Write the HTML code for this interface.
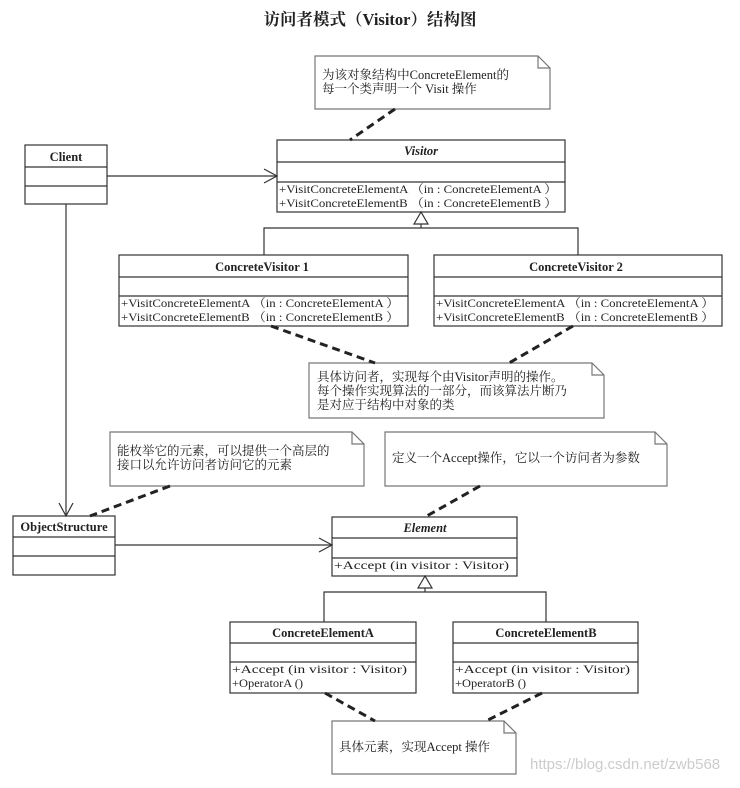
<!DOCTYPE html>
<html><head><meta charset="utf-8"><style>
body{margin:0;background:#fff}
svg text{font-family:"Liberation Serif","Noto Serif CJK SC",serif;fill:#222}
.b{font-weight:bold;font-size:12.5px}
.m{font-size:12px}
.n{font-size:12.5px}
</style></head><body>
<svg width="740" height="783" viewBox="0 0 740 783" xmlns="http://www.w3.org/2000/svg">
<g stroke="#333" stroke-width="1.2" fill="none">
<path d="M315 56 H538 L550 68 V109 H315 Z M538 56 V68 H550" stroke="#777"/>
<rect x="277" y="140" width="288" height="72"/><line x1="277" y1="162" x2="565" y2="162"/><line x1="277" y1="182" x2="565" y2="182"/>
<rect x="25" y="145" width="82" height="59"/><line x1="25" y1="167" x2="107" y2="167"/><line x1="25" y1="186" x2="107" y2="186"/>
<line x1="107" y1="176" x2="277" y2="176"/><path d="M264 169 L277 176 L264 183"/>
<line x1="66" y1="204" x2="66" y2="516"/><path d="M59 503 L66 516 L73 503"/>
<path d="M421 212 L414 224 H428 Z"/><line x1="421" y1="224" x2="421" y2="228"/>
<path d="M264 255 V228 H578 V255"/>
<rect x="119" y="255" width="289" height="71"/><line x1="119" y1="277" x2="408" y2="277"/><line x1="119" y1="296" x2="408" y2="296"/>
<rect x="434" y="255" width="288" height="71"/><line x1="434" y1="277" x2="722" y2="277"/><line x1="434" y1="296" x2="722" y2="296"/>
<path d="M309 363 H592 L604 375 V418 H309 Z M592 363 V375 H604" stroke="#777"/>
<path d="M110 432 H352 L364 444 V486 H110 Z M352 432 V444 H364" stroke="#777"/>
<path d="M385 432 H655 L667 444 V486 H385 Z M655 432 V444 H667" stroke="#777"/>
<rect x="13" y="516" width="102" height="59"/><line x1="13" y1="537" x2="115" y2="537"/><line x1="13" y1="556" x2="115" y2="556"/>
<rect x="332" y="517" width="185" height="59"/><line x1="332" y1="538" x2="517" y2="538"/><line x1="332" y1="558" x2="517" y2="558"/>
<line x1="115" y1="545" x2="332" y2="545"/><path d="M319 538 L332 545 L319 552"/>
<path d="M425 576 L418 588 H432 Z"/><line x1="425" y1="588" x2="425" y2="592"/>
<path d="M324 622 V592 H546 V622"/>
<rect x="230" y="622" width="186" height="71"/><line x1="230" y1="643" x2="416" y2="643"/><line x1="230" y1="662" x2="416" y2="662"/>
<rect x="453" y="622" width="185" height="71"/><line x1="453" y1="643" x2="638" y2="643"/><line x1="453" y1="662" x2="638" y2="662"/>
<path d="M332 721 H504 L516 733 V774 H332 Z M504 721 V733 H516" stroke="#777"/>
</g>
<g stroke="#222" stroke-width="3" stroke-dasharray="8,5" fill="none">
<line x1="395" y1="109" x2="350" y2="140"/>
<line x1="271" y1="326" x2="375" y2="363"/>
<line x1="573" y1="326" x2="509" y2="363"/>
<line x1="170" y1="486" x2="90" y2="516"/>
<line x1="480" y1="486" x2="425" y2="517"/>
<line x1="325" y1="693" x2="375" y2="721"/>
<line x1="542" y1="693" x2="486" y2="721"/>
</g>
<text x="370" y="25" text-anchor="middle" style="font-size:16.5px;font-weight:bold">访问者模式（Visitor）结构图</text>
<text class="n" x="322" y="79" textLength="187" lengthAdjust="spacingAndGlyphs">为该对象结构中ConcreteElement的</text>
<text class="n" x="322" y="93">每一个类声明一个 Visit 操作</text>
<text class="b" x="421" y="155" text-anchor="middle" font-style="italic">Visitor</text>
<text class="m" x="279" y="193" textLength="278" lengthAdjust="spacingAndGlyphs">+VisitConcreteElementA （in  : ConcreteElementA ）</text>
<text class="m" x="279" y="207" textLength="278" lengthAdjust="spacingAndGlyphs">+VisitConcreteElementB （in  : ConcreteElementB ）</text>
<text class="b" x="66" y="161" text-anchor="middle">Client</text>
<text class="b" x="262" y="271" text-anchor="middle">ConcreteVisitor 1</text>
<text class="m" x="121" y="307" textLength="278" lengthAdjust="spacingAndGlyphs">+VisitConcreteElementA （in  : ConcreteElementA ）</text>
<text class="m" x="121" y="321" textLength="278" lengthAdjust="spacingAndGlyphs">+VisitConcreteElementB （in  : ConcreteElementB ）</text>
<text class="b" x="576" y="271" text-anchor="middle">ConcreteVisitor 2</text>
<text class="m" x="436" y="307" textLength="278" lengthAdjust="spacingAndGlyphs">+VisitConcreteElementA （in  : ConcreteElementA ）</text>
<text class="m" x="436" y="321" textLength="278" lengthAdjust="spacingAndGlyphs">+VisitConcreteElementB （in  : ConcreteElementB ）</text>
<text class="n" x="317" y="381">具体访问者，实现每个由Visitor声明的操作。</text>
<text class="n" x="317" y="395">每个操作实现算法的一部分，而该算法片断乃</text>
<text class="n" x="317" y="409">是对应于结构中对象的类</text>
<text class="n" x="117" y="455">能枚举它的元素，可以提供一个高层的</text>
<text class="n" x="117" y="469">接口以允许访问者访问它的元素</text>
<text class="n" x="392" y="462">定义一个Accept操作，它以一个访问者为参数</text>
<text class="b" x="64" y="531" text-anchor="middle">ObjectStructure</text>
<text class="b" x="425" y="532" text-anchor="middle" font-style="italic">Element</text>
<text class="m" x="334" y="569" textLength="175" lengthAdjust="spacingAndGlyphs">+Accept (in visitor  : Visitor)</text>
<text class="b" x="323" y="637" text-anchor="middle">ConcreteElementA</text>
<text class="m" x="232" y="673" textLength="175" lengthAdjust="spacingAndGlyphs">+Accept (in visitor  : Visitor)</text>
<text class="m" x="232" y="687" textLength="71" lengthAdjust="spacingAndGlyphs">+OperatorA ()</text>
<text class="b" x="546" y="637" text-anchor="middle">ConcreteElementB</text>
<text class="m" x="455" y="673" textLength="175" lengthAdjust="spacingAndGlyphs">+Accept (in visitor  : Visitor)</text>
<text class="m" x="455" y="687" textLength="71" lengthAdjust="spacingAndGlyphs">+OperatorB ()</text>
<text class="n" x="339" y="751">具体元素，实现Accept 操作</text>
<text x="530" y="769" style="font-family:'Liberation Sans',sans-serif;font-size:15px;fill:#ccc">https://blog.csdn.net/zwb568</text>
</svg>
</body></html>
